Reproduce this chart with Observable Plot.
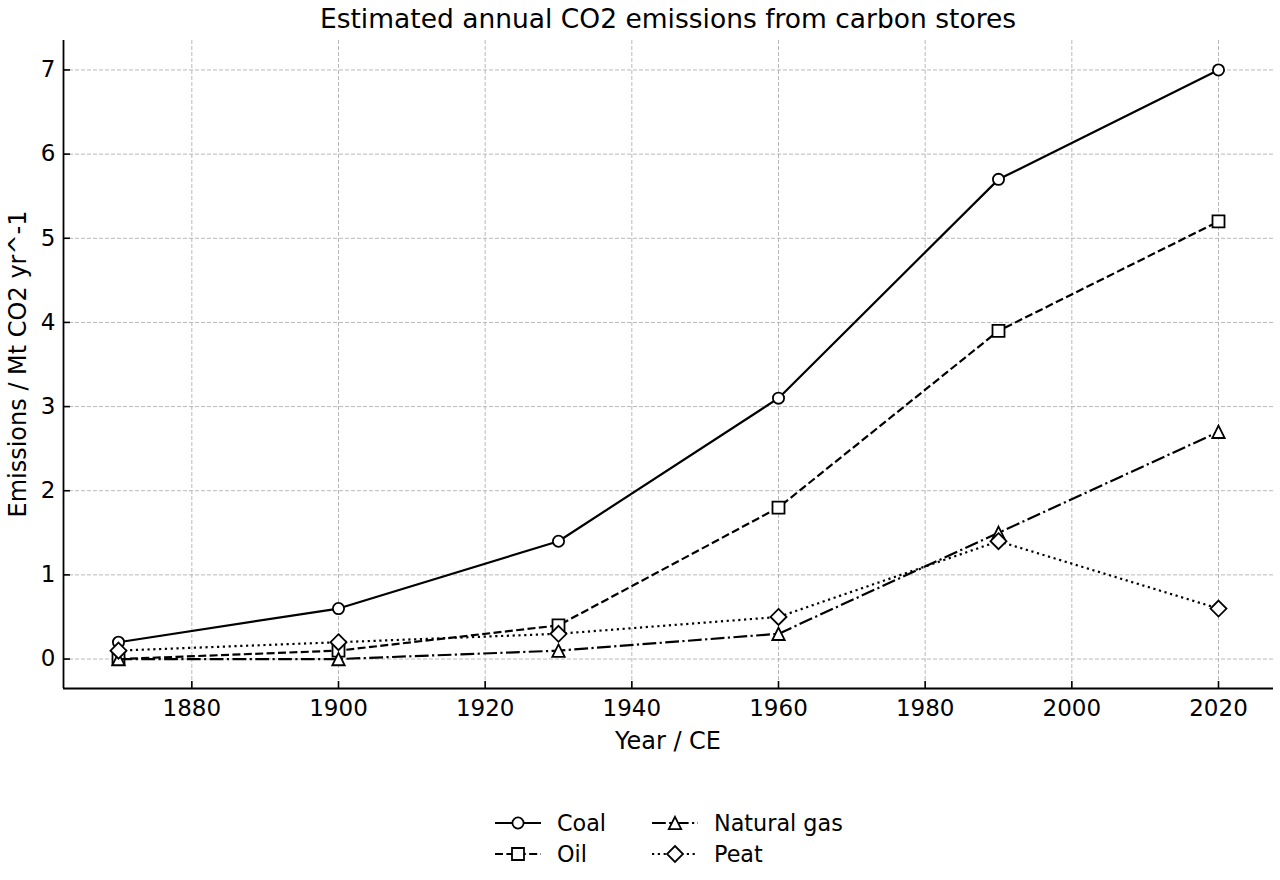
<!DOCTYPE html>
<html>
<head>
<meta charset="utf-8">
<script src="https://cdn.jsdelivr.net/npm/d3@7"></script>
<script src="https://cdn.jsdelivr.net/npm/@observablehq/plot@0.6"></script>
<style>
  html, body { margin: 0; padding: 0; background: #fff; }
  #wrap { position: relative; width: 1280px; height: 880px; font-family: "DejaVu Sans", sans-serif; color: #000; }
  #title { position: absolute; top: 0; left: 63px; width: 1210px; text-align: center; font-size: 26.5px; line-height: 38px; }
  #xlabel { position: absolute; top: 726px; left: 63px; width: 1210px; text-align: center; font-size: 24px; line-height: 30px; }
  #ylabel { position: absolute; left: 18px; top: 364px; transform: translate(-50%, -50%) rotate(-90deg); font-size: 24px; white-space: nowrap; line-height: 28px; }
  #legend { position: absolute; left: 495px; top: 807px; display: grid; grid-template-columns: 157px auto; grid-auto-rows: 31px; font-size: 22.3px; }
  .item { display: flex; align-items: center; }
  .item svg { width: 46px; height: 22px; margin-right: 16px; overflow: visible; }
  #chart { position: absolute; left: 0; top: 0; }
</style>
</head>
<body>
<div id="wrap">
  <div id="chart"></div>
  <div id="title">Estimated annual CO2 emissions from carbon stores</div>
  <div id="xlabel">Year / CE</div>
  <div id="ylabel">Emissions / Mt CO2 yr^-1</div>
  <div id="legend"></div>
</div>
<script>
const years = [1870, 1900, 1930, 1960, 1990, 2020];
const coal = [0.2, 0.6, 1.4, 3.1, 5.7, 7.0];
const oil = [0.0, 0.1, 0.4, 1.8, 3.9, 5.2];
const naturalGas = [0.0, 0.0, 0.1, 0.3, 1.5, 2.7];
const peat = [0.1, 0.2, 0.3, 0.5, 1.4, 0.6];
const seriesNames = ["Coal", "Oil", "Natural gas", "Peat"];
const xTicks = [1880, 1900, 1920, 1940, 1960, 1980, 2000, 2020];
const yTicks = [0, 1, 2, 3, 4, 5, 6, 7];

const valuesByName = {"Coal": coal, "Oil": oil, "Natural gas": naturalGas, "Peat": peat};

// matplotlib-like marker shapes (size = r^2 * PI, as Plot passes it)
const half = size => Math.sqrt(size / Math.PI);
const mplCircle = {draw(ctx, size) { const r = half(size); ctx.moveTo(r, 0); ctx.arc(0, 0, r, 0, 2 * Math.PI); ctx.closePath(); }};
const mplSquare = {draw(ctx, size) { const h = half(size); ctx.moveTo(-h, -h); ctx.lineTo(h, -h); ctx.lineTo(h, h); ctx.lineTo(-h, h); ctx.closePath(); }};
const mplTriangle = {draw(ctx, size) { const h = half(size); ctx.moveTo(0, -h); ctx.lineTo(h, h); ctx.lineTo(-h, h); ctx.closePath(); }};
const mplDiamond = {draw(ctx, size) { const h = half(size); ctx.moveTo(0, -h); ctx.lineTo(h, 0); ctx.lineTo(0, h); ctx.lineTo(-h, 0); ctx.closePath(); }};

const styles = {
  "Coal": {dash: null, symbol: mplCircle, r: 5.6},
  "Oil": {dash: "8,3.4", symbol: mplSquare, r: 6},
  "Natural gas": {dash: "13.8,3.4,2.2,3.4", symbol: mplTriangle, r: 6.2},
  "Peat": {dash: "2.2,3.6", symbol: mplDiamond, r: 8}
};

const table = seriesNames.flatMap(name => years.map((year, i) => ({series: name, year, value: valuesByName[name][i]})));

const xDomain = [1862.5, 2027.5];
const yDomain = [-0.35, 7.35];
const gridStyle = {stroke: "#b0b0b0", strokeOpacity: 1, strokeWidth: 0.9, strokeDasharray: "4,2"};

const marks = [
  Plot.gridX(xTicks, gridStyle),
  Plot.gridY(yTicks, gridStyle)
];
for (const name of seriesNames) {
  const data = table.filter(d => d.series === name);
  const st = styles[name];
  marks.push(Plot.line(data, {x: "year", y: "value", stroke: "black", strokeWidth: 2.2, strokeDasharray: st.dash, strokeLinecap: "butt"}));
  marks.push(Plot.dot(data, {x: "year", y: "value", symbol: st.symbol, r: st.r, fill: "white", stroke: "black", strokeWidth: 1.8}));
}
marks.push(
  Plot.axisX({ticks: xTicks, tickFormat: d => String(d), tickSize: -7, tickPadding: 18, label: null, fontSize: 23, stroke: "black", strokeWidth: 1.6}),
  Plot.axisY({ticks: yTicks, tickFormat: d => String(d), tickSize: -7, tickPadding: 15, label: null, fontSize: 23, stroke: "black", strokeWidth: 1.6}),
  Plot.ruleX([xDomain[0]], {stroke: "black", strokeWidth: 1.8}),
  Plot.ruleY([yDomain[0]], {stroke: "black", strokeWidth: 1.8})
);

const chart = Plot.plot({
  width: 1280,
  height: 880,
  marginTop: 40,
  marginBottom: 192,
  marginLeft: 63,
  marginRight: 7,
  style: {fontFamily: "DejaVu Sans, sans-serif", fontSize: "23px", color: "black", background: "white"},
  x: {domain: xDomain, label: null},
  y: {domain: yDomain, label: null},
  marks
});
document.getElementById("chart").appendChild(chart);

// Legend (column-major like matplotlib ncol=2)
const legend = document.getElementById("legend");
const legendOrder = ["Coal", "Natural gas", "Oil", "Peat"];
for (const name of legendOrder) {
  const st = styles[name];
  const item = document.createElement("div");
  item.className = "item";
  const p = d3.path();
  st.symbol.draw(p, Math.PI * st.r * st.r);
  item.innerHTML = `<svg viewBox="0 0 46 22"><line x1="0" y1="11" x2="46" y2="11" stroke="black" stroke-width="2.2" ${st.dash ? `stroke-dasharray="${st.dash}"` : ""}/><path transform="translate(23,11)" d="${p.toString()}" fill="white" stroke="black" stroke-width="1.8"/></svg><span>${name}</span>`;
  legend.appendChild(item);
}
</script>
</body>
</html>
